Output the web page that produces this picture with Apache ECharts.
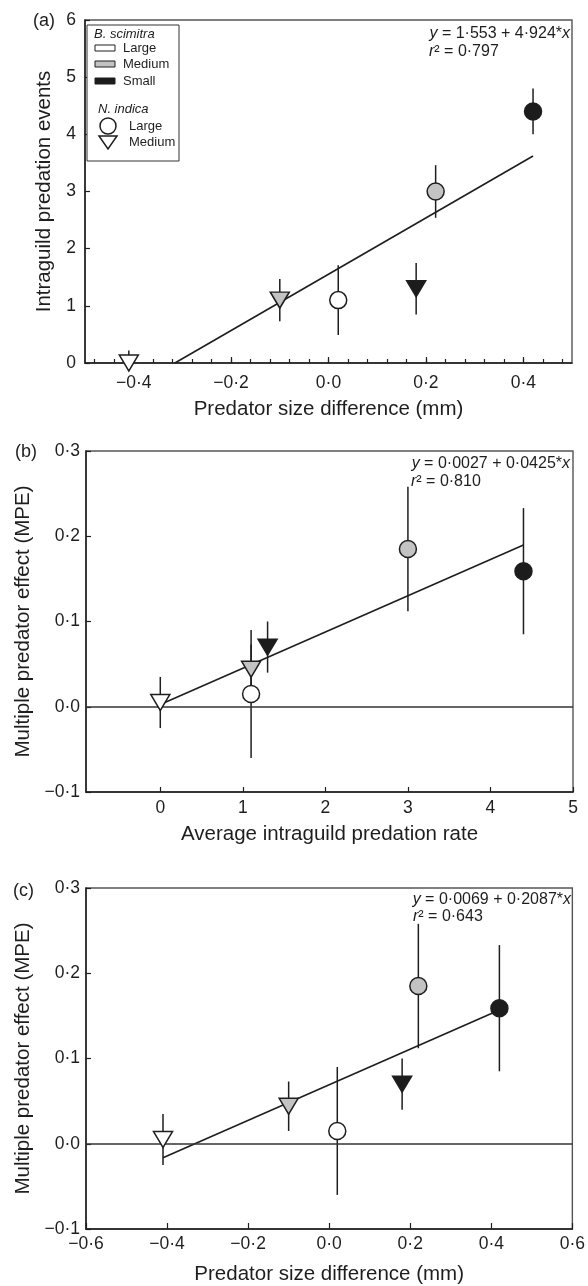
<!DOCTYPE html>
<html>
<head>
<meta charset="utf-8">
<script src="https://cdn.jsdelivr.net/npm/echarts@6/dist/echarts.min.js"></script>
<style>html,body{margin:0;padding:0;background:#fff;}#c{width:588px;height:1286px;}</style>
</head>
<body>
<div id="c"></div>
<script>
// ---- data ----
// each point: B. scimitra size (fill) x N. indica size (shape)
const bsSize   = ['Large', 'Medium', 'Large', 'Small', 'Medium', 'Small'];
const niSize   = ['Medium', 'Medium', 'Large', 'Medium', 'Large', 'Large'];
const sizeDiff = [-0.41, -0.10, 0.02, 0.18, 0.22, 0.42];     // predator size difference (mm)
const igpMean  = [0.0, 1.1, 1.1, 1.3, 3.0, 4.4];             // intraguild predation events
const igpErr   = [0.22, 0.37, 0.61, 0.45, 0.46, 0.40];
const mpeMean  = [0.005, 0.044, 0.015, 0.070, 0.185, 0.159]; // multiple predator effect
const mpeErr   = [0.030, 0.029, 0.075, 0.030, 0.073, 0.074];
const fitA = [[-0.3154, 0], [0.42, 3.621]];
const fitB = [[0, 0.0027], [4.4, 0.1897]];
const fitC = [[-0.41, -0.0165], [0.42, 0.157]];
const eqA = ['{i|y} = 1\u00b7553 + 4\u00b7924*{i|x}', '{i|r}\u00b2 = 0\u00b7797'];
const eqB = ['{i|y} = 0\u00b70027 + 0\u00b70425*{i|x}', '{i|r}\u00b2 = 0\u00b7810'];
const eqC = ['{i|y} = 0\u00b70069 + 0\u00b72087*{i|x}', '{i|r}\u00b2 = 0\u00b7643'];
// tick values
const xMajorA = [-0.4, -0.2, 0, 0.2, 0.4];
const xMinorA = [-0.48, -0.44, -0.40, -0.36, -0.32, -0.28, -0.24, -0.20, -0.16, -0.12, -0.08, -0.04, 0,
                 0.04, 0.08, 0.12, 0.16, 0.20, 0.24, 0.28, 0.32, 0.36, 0.40, 0.44, 0.48];
const xTicksB = [0, 1, 2, 3, 4, 5];

// ---- styles ----
const FONT = '"Liberation Sans", Arial, Helvetica, sans-serif';
const INK = '#1e1e1e';
const fillOf = { Large: '#ffffff', Medium: '#c3c3c3', Small: '#1c1c1c' };
const shapeOf = { Large: 'circle', Medium: 'triangle' };
const symSizeOf = { Large: 17, Medium: [19, 16] };
const rotOf = { Large: 0, Medium: 180 };

const dec = v => {
  const a = Math.abs(v) < 1e-9 ? 0 : v;
  return (a < 0 ? '\u2212' : '') + Math.abs(a).toFixed(1).replace('.', '\u00b7');
};

function markerData(xs, ys) {
  return xs.map((x, i) => ({
    value: [x, ys[i]],
    symbol: shapeOf[niSize[i]],
    symbolSize: symSizeOf[niSize[i]],
    symbolRotate: rotOf[niSize[i]],
    itemStyle: { color: fillOf[bsSize[i]] }
  }));
}
function errData(xs, ys, es) { return xs.map((x, i) => [x, ys[i], es[i]]); }

function errSeries(xi, yi, data) {
  return {
    type: 'custom', xAxisIndex: xi, yAxisIndex: yi, clip: true, z: 2, silent: true,
    data: data, encode: { x: 0, y: 1 },
    renderItem: function (params, api) {
      const x = api.value(0), m = api.value(1), e = api.value(2);
      const p1 = api.coord([x, m - e]);
      const p2 = api.coord([x, m + e]);
      return { type: 'line', shape: { x1: p1[0], y1: p1[1], x2: p2[0], y2: p2[1] },
               style: { stroke: INK, lineWidth: 1.5 } };
    }
  };
}
function fitSeries(xi, yi, data, zero) {
  const s = {
    type: 'line', xAxisIndex: xi, yAxisIndex: yi, data: data, symbol: 'none', z: 3, silent: true,
    lineStyle: { color: INK, width: 1.6 }
  };
  if (zero) {
    s.markLine = { silent: true, symbol: ['none', 'none'], label: { show: false },
      lineStyle: { color: '#333', width: 1.5, type: 'solid' }, data: [{ yAxis: 0 }] };
  }
  return s;
}
function markerSeries(xi, yi, data) {
  return {
    type: 'scatter', xAxisIndex: xi, yAxisIndex: yi, data: data, z: 5, silent: true,
    itemStyle: { borderColor: INK, borderWidth: 1.5, opacity: 1 }
  };
}

const axisLine = { show: true, onZero: false, lineStyle: { color: INK, width: 1.5 } };
const tickStyle = { color: INK, width: 1.2 };
const labelBase = { color: INK, fontFamily: FONT, fontSize: 17.5 };
const nameBase = { color: INK, fontFamily: FONT, fontSize: 20.5 };

const grids = [
  { left: 85, right: 16, top: 20, height: 343 },
  { left: 86, right: 15, top: 451, height: 341 },
  { left: 86, right: 15, top: 888, height: 342 }
];
grids.forEach(g => { g.show = true; g.borderColor = '#555'; g.borderWidth = 1.4; g.backgroundColor = 'transparent'; });

const xAxes = [
  // (a) minor ticks
  { gridIndex: 0, type: 'value', min: -0.5, max: 0.5, position: 'bottom', axisLine: axisLine,
    axisTick: { show: true, inside: true, length: 4, lineStyle: tickStyle, customValues: xMinorA },
    axisLabel: { show: false }, splitLine: { show: false } },
  // (a) major ticks + labels + name
  { gridIndex: 0, type: 'value', min: -0.5, max: 0.5, position: 'bottom', axisLine: { show: false, onZero: false },
    axisTick: { show: true, inside: true, length: 6, lineStyle: tickStyle, customValues: xMajorA },
    axisLabel: Object.assign({ customValues: xMajorA, formatter: dec, margin: 11 }, labelBase),
    splitLine: { show: false },
    name: 'Predator size difference (mm)', nameLocation: 'middle', nameGap: 36, nameTextStyle: nameBase },
  // (b)
  { gridIndex: 1, type: 'value', min: -0.9, max: 5, position: 'bottom', axisLine: axisLine,
    axisTick: { show: true, inside: true, length: 5, lineStyle: tickStyle, customValues: xTicksB },
    axisLabel: Object.assign({ customValues: xTicksB, formatter: v => String(v), margin: 7 }, labelBase),
    splitLine: { show: false },
    name: 'Average intraguild predation rate', nameLocation: 'middle', nameGap: 32, nameTextStyle: nameBase },
  // (c)
  { gridIndex: 2, type: 'value', min: -0.6, max: 0.6, interval: 0.2, position: 'bottom', axisLine: axisLine,
    axisTick: { show: true, inside: true, length: 6, lineStyle: tickStyle },
    axisLabel: Object.assign({ formatter: dec, margin: 6, showMinLabel: true, showMaxLabel: true }, labelBase),
    splitLine: { show: false },
    name: 'Predator size difference (mm)', nameLocation: 'middle', nameGap: 35, nameTextStyle: nameBase }
];

const yAxes = [
  { gridIndex: 0, type: 'value', min: 0, max: 6, interval: 1, position: 'left', axisLine: axisLine,
    axisTick: { show: true, inside: true, length: 5, lineStyle: tickStyle },
    axisLabel: Object.assign({ formatter: v => String(v), margin: 9 }, labelBase), splitLine: { show: false },
    name: 'Intraguild predation events', nameLocation: 'middle', nameRotate: 90, nameGap: 30, nameTextStyle: nameBase },
  { gridIndex: 1, type: 'value', min: -0.1, max: 0.3, interval: 0.1, position: 'left', axisLine: axisLine,
    axisTick: { show: true, inside: true, length: 5, lineStyle: tickStyle },
    axisLabel: Object.assign({ formatter: dec, margin: 6 }, labelBase), splitLine: { show: false },
    name: 'Multiple predator effect (MPE)', nameLocation: 'middle', nameRotate: 90, nameGap: 50, nameTextStyle: nameBase },
  { gridIndex: 2, type: 'value', min: -0.1, max: 0.3, interval: 0.1, position: 'left', axisLine: axisLine,
    axisTick: { show: true, inside: true, length: 5, lineStyle: tickStyle },
    axisLabel: Object.assign({ formatter: dec, margin: 6 }, labelBase), splitLine: { show: false },
    name: 'Multiple predator effect (MPE)', nameLocation: 'middle', nameRotate: 90, nameGap: 50, nameTextStyle: nameBase }
];

const series = [
  errSeries(0, 0, errData(sizeDiff, igpMean, igpErr)),
  fitSeries(0, 0, fitA, false),
  markerSeries(0, 0, markerData(sizeDiff, igpMean)),
  errSeries(2, 1, errData(igpMean, mpeMean, mpeErr)),
  fitSeries(2, 1, fitB, true),
  markerSeries(2, 1, markerData(igpMean, mpeMean)),
  errSeries(3, 2, errData(sizeDiff, mpeMean, mpeErr)),
  fitSeries(3, 2, fitC, true),
  markerSeries(3, 2, markerData(sizeDiff, mpeMean))
];

// ---- text / legend graphics ----
const EQ = 16;
const rich = { i: { fontStyle: 'italic', fontFamily: FONT, fontSize: EQ, fill: INK } };
function txt(text, x, y, opts) {
  return { type: 'text', z: 100, style: Object.assign({ text: text, x: x, y: y, fill: INK,
    fontFamily: FONT, fontSize: EQ, align: 'left', verticalAlign: 'middle', rich: rich }, opts || {}) };
}
const graphics = [
  txt('(a)', 33, 21, { fontSize: 18 }),
  txt('(b)', 15, 452, { fontSize: 18 }),
  txt('(c)', 13, 891, { fontSize: 18 }),
  txt(eqA[0], 570, 34, { align: 'right' }), txt(eqA[1], 429, 52),
  txt(eqB[0], 570, 464, { align: 'right' }), txt(eqB[1], 411, 482),
  txt(eqC[0], 571, 900, { align: 'right' }), txt(eqC[1], 413, 917),
  // legend box
  { type: 'rect', z: 90, shape: { x: 87, y: 25, width: 92, height: 136 },
    style: { fill: '#fff', stroke: '#333', lineWidth: 1 } },
  txt('B. scimitra', 94, 34, { fontSize: 13, fontStyle: 'italic' }),
  { type: 'rect', z: 100, shape: { x: 95, y: 45, width: 20, height: 6 }, style: { fill: fillOf.Large, stroke: INK, lineWidth: 1 } },
  txt('Large', 123, 48, { fontSize: 13 }),
  { type: 'rect', z: 100, shape: { x: 95, y: 61, width: 20, height: 6 }, style: { fill: fillOf.Medium, stroke: INK, lineWidth: 1 } },
  txt('Medium', 123, 64, { fontSize: 13 }),
  { type: 'rect', z: 100, shape: { x: 95, y: 78, width: 20, height: 6 }, style: { fill: fillOf.Small, stroke: INK, lineWidth: 1 } },
  txt('Small', 123, 81, { fontSize: 13 }),
  txt('N. indica', 98, 109, { fontSize: 13, fontStyle: 'italic' }),
  { type: 'circle', z: 100, shape: { cx: 108, cy: 126, r: 8 }, style: { fill: '#fff', stroke: INK, lineWidth: 1.5 } },
  txt('Large', 129, 126, { fontSize: 13 }),
  { type: 'polygon', z: 100, shape: { points: [[99, 136], [117, 136], [108, 149]] }, style: { fill: '#fff', stroke: INK, lineWidth: 1.5 } },
  txt('Medium', 129, 142, { fontSize: 13 })
];

const chart = echarts.init(document.getElementById('c'), null, { renderer: 'canvas' });
chart.setOption({
  animation: false,
  backgroundColor: '#fff',
  textStyle: { fontFamily: FONT },
  grid: grids,
  xAxis: xAxes,
  yAxis: yAxes,
  series: series,
  graphic: graphics
});
</script>
</body>
</html>
